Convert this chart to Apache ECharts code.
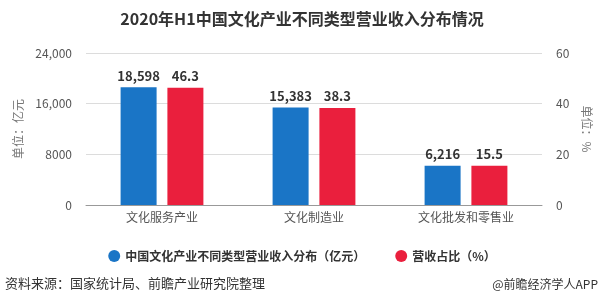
<!DOCTYPE html>
<html><head><meta charset="utf-8">
<script src="https://cdn.jsdelivr.net/npm/echarts@6/dist/echarts.min.js"></script>
<style>html,body{margin:0;padding:0;background:#fff}#c{width:604px;height:305px}</style>
</head><body><div id="c"></div>
<script>
const categories = ['文化服务产业', '文化制造业', '文化批发和零售业'];
const revenue = [18598, 15383, 6216];
const share = [46.3, 38.3, 15.5];
const leftTicks = [0, 8000, 16000, 24000];
const rightTicks = [0, 20, 40, 60];

const font = '"Microsoft YaHei","Noto Sans CJK SC",sans-serif';
const chart = echarts.init(document.getElementById('c'));
chart.setOption({
  animation: false,
  textStyle: { fontFamily: font },
  title: {
    text: '2020年H1中国文化产业不同类型营业收入分布情况',
    left: 'center', top: 6,
    textStyle: { fontSize: 16, fontWeight: 'bold', color: '#333', fontFamily: font }
  },
  legend: {
    top: 245, left: 'center', itemGap: 30,
    icon: 'circle', itemWidth: 12, itemHeight: 12,
    textStyle: { fontSize: 12, fontWeight: 'bold', color: '#333', fontFamily: font },
    data: ['中国文化产业不同类型营业收入分布（亿元）', '营收占比（%）']
  },
  grid: { left: 86, right: 62, top: 53, bottom: 100 },
  xAxis: {
    type: 'category', data: categories,
    axisTick: { alignWithLabel: true, length: 4, lineStyle: { color: '#999' } },
    axisLine: { lineStyle: { color: '#999' } },
    axisLabel: { color: '#555', fontSize: 12, margin: 6 }
  },
  yAxis: [
    {
      type: 'value', min: leftTicks[0], max: leftTicks[leftTicks.length - 1], interval: 8000,
      name: '单位：亿元', nameLocation: 'middle', nameGap: 52, nameRotate: 90,
      nameTextStyle: { color: '#777', fontSize: 12 },
      axisLabel: { color: '#555', fontSize: 12, margin: 14,
        formatter: v => v >= 10000 ? v.toLocaleString('en-US') : String(v) },
      axisLine: { show: false }, axisTick: { show: false },
      splitLine: { lineStyle: { color: '#dcdcdc' } }
    },
    {
      type: 'value', min: rightTicks[0], max: rightTicks[rightTicks.length - 1], interval: 20,
      name: '单位：%', nameLocation: 'middle', nameGap: 30, nameRotate: -90,
      nameTextStyle: { color: '#777', fontSize: 12 },
      axisLabel: { color: '#555', fontSize: 12, margin: 14 },
      axisLine: { show: false }, axisTick: { show: false },
      splitLine: { show: false }
    }
  ],
  series: [
    {
      name: '中国文化产业不同类型营业收入分布（亿元）', type: 'bar', yAxisIndex: 0,
      data: revenue, barWidth: 36, barGap: '30%',
      itemStyle: { color: '#1a75c6' },
      label: { show: true, position: 'top', color: '#333', fontWeight: 'bold', fontSize: 13,
        formatter: p => p.value.toLocaleString('en-US') }
    },
    {
      name: '营收占比（%）', type: 'bar', yAxisIndex: 1,
      data: share, barWidth: 36,
      itemStyle: { color: '#ea1f3d' },
      label: { show: true, position: 'top', color: '#333', fontWeight: 'bold', fontSize: 13,
        formatter: p => p.value.toFixed(1) }
    }
  ],
  graphic: [
    { type: 'text', left: 5, top: 277,
      style: { text: '资料来源：国家统计局、前瞻产业研究院整理', fill: '#333', font: '13px ' + font } },
    { type: 'text', right: 6, top: 278,
      style: { text: '@前瞻经济学人APP', fill: '#333', font: '12px ' + font } }
  ]
});
</script></body></html>
